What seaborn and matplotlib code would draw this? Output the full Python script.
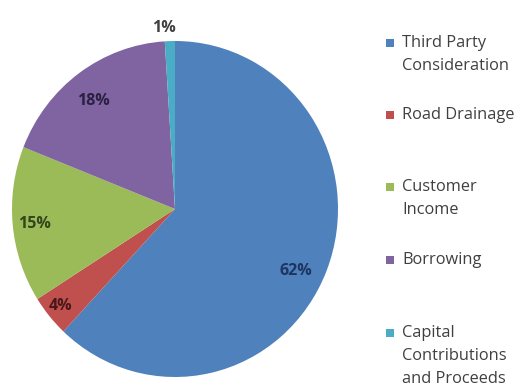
import matplotlib
matplotlib.use("Agg")
import matplotlib.pyplot as plt
import seaborn as sns
from matplotlib.patches import Rectangle

# Funding sources (percent of total)
categories = ["Third Party Consideration", "Road Drainage", "Customer Income",
              "Borrowing", "Capital Contributions and Proceeds"]
legend_lines = [["Third Party", "Consideration"], ["Road Drainage"],
                ["Customer", "Income"], ["Borrowing"],
                ["Capital", "Contributions", "and Proceeds"]]
shares = [62, 4, 15, 18, 1]

slice_colors = ["#4F81BD", "#C0504D", "#9BBB59", "#8064A2", "#4BACC6"]
label_colors = ["#1E3560", "#4A1818", "#33451A", "#2A2040", "#404040"]
# label anchor points in pie data units (radius = 1)
label_xy = [(0.74, -0.37), (-0.70, -0.58), (-0.86, -0.09), (-0.50, 0.64), (-0.07, 1.08)]

sns.set_theme(style="white")
plt.rcParams["font.family"] = ["Open Sans", "DejaVu Sans"]

W, H = 526, 392
fig = plt.figure(figsize=(W / 100, H / 100), dpi=100)
fig.patch.set_facecolor("white")

cx, cy, rx, ry = 175, 209, 163, 168
ax = fig.add_axes([(cx - rx) / W, (H - cy - ry) / H, 2 * rx / W, 2 * ry / H])
palette = sns.color_palette(slice_colors)
wedges, texts, autotexts = ax.pie(
    shares, colors=palette, startangle=90, counterclock=False,
    autopct=lambda p: f"{p:.0f}%", radius=1,
    wedgeprops=dict(linewidth=0),
    textprops=dict(fontsize=11.5, fontweight="bold"),
)
ax.set_aspect("auto")
ax.set_xlim(-1, 1)
ax.set_ylim(-1, 1)
ax.axis("off")
for t, col, xy in zip(autotexts, label_colors, label_xy):
    t.set_position(xy)
    t.set_color(col)
    t.set_clip_on(False)

# Legend drawn as colored squares with wrapped labels
item_tops = [43, 115, 187, 260, 333]
line_gap = 23
sq = 8
for lines, col, top in zip(legend_lines, slice_colors, item_tops):
    fig.patches.append(Rectangle((386 / W, (H - top - sq / 2) / H), sq / W, sq / H,
                                 transform=fig.transFigure, facecolor=col,
                                 edgecolor="none"))
    for i, line in enumerate(lines):
        fig.text(402 / W, (H - top - i * line_gap) / H, line, fontsize=11.8,
                 color="#404040", va="center", ha="left")

fig.savefig("out.png", dpi=100, facecolor="white")
